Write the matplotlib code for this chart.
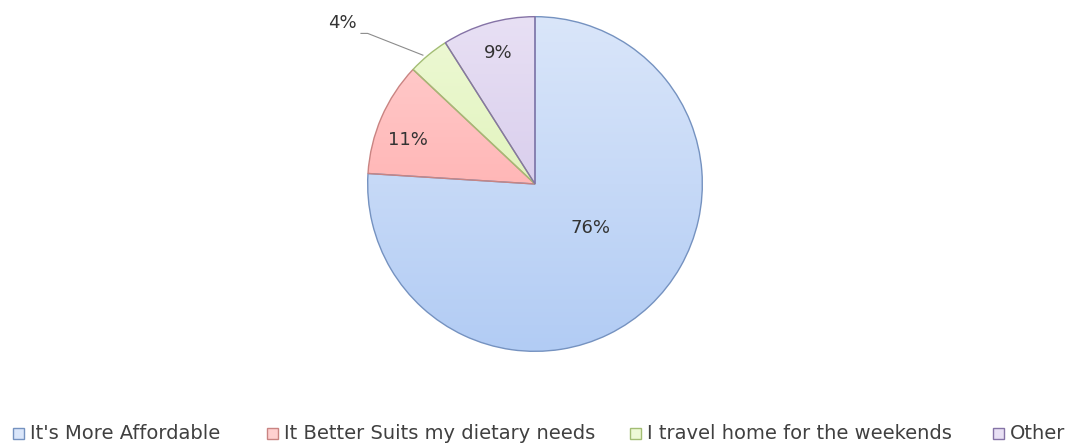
import numpy as np
import matplotlib
matplotlib.use("Agg")
import matplotlib.pyplot as plt
import matplotlib.colors as colors
from matplotlib.patches import Rectangle

reasons = ["It's More Affordable", "It Better Suits my dietary needs",
           "I travel home for the weekends", "Other"]
shares = [76, 11, 4, 9]
share_labels = ["76%", "11%", "4%", "9%"]

# light (top) and darker (bottom) fill for the Excel-like gradient
top_colors = ["#dae6fa", "#ffd0d0", "#eef9d6", "#e8e0f4"]
bottom_colors = ["#b2ccf4", "#ff9e9e", "#d6efa6", "#cbbde6"]
edge_colors = ["#7592c0", "#c98482", "#a3bd74", "#8573a6"]

fig = plt.figure(figsize=(10.69, 4.47), dpi=100)
ax = fig.add_axes([366 / 1069, 94 / 447, 338 / 1069, 338 / 447])

wedges, _ = ax.pie(shares, startangle=90, counterclock=False, colors=top_colors,
                   radius=1.0, wedgeprops=dict(linewidth=1.0))
grad = np.linspace(0, 1, 256).reshape(-1, 1)
for w, tc, bc, ec in zip(wedges, top_colors, bottom_colors, edge_colors):
    w.set_edgecolor(ec)
    w.set_facecolor("none")
    w.set_zorder(3)
    cmap = colors.LinearSegmentedColormap.from_list("g", [bc, tc])
    im = ax.imshow(grad, cmap=cmap, extent=[-1, 1, -1, 1], origin="lower",
                   aspect="auto", zorder=2)
    im.set_clip_path(w)
ax.set_xlim(-1.01, 1.01)
ax.set_ylim(-1.01, 1.01)
ax.set_aspect("equal")
ax.axis("off")

label_pos = [(0.33, -0.26), (-0.76, 0.26), (-1.15, 0.96), (-0.22, 0.78)]
for (x, y), txt in zip(label_pos, share_labels):
    ax.text(x, y, txt, ha="center", va="center", fontsize=13, color="#333333",
            clip_on=False, zorder=5)

# leader line for the small slice
ax.plot([-1.04, -1.0, -0.67], [0.90, 0.90, 0.77], color="#8c8c8c", lw=0.8,
        clip_on=False, zorder=5)

# legend entries placed along the bottom
legend_x = [13, 267, 630, 993]
baseline = 439
for x0, name, tc, bc, ec in zip(legend_x, reasons, top_colors, bottom_colors, edge_colors):
    fig.add_artist(Rectangle((x0 / 1069, (447 - baseline) / 447), 11 / 1069, 11 / 447,
                             transform=fig.transFigure, facecolor=tc, edgecolor=ec, lw=1))
    fig.text((x0 + 17) / 1069, (447 - baseline) / 447, name, ha="left", va="baseline",
             fontsize=14, color="#404040")

fig.savefig("out.png", dpi=100)
